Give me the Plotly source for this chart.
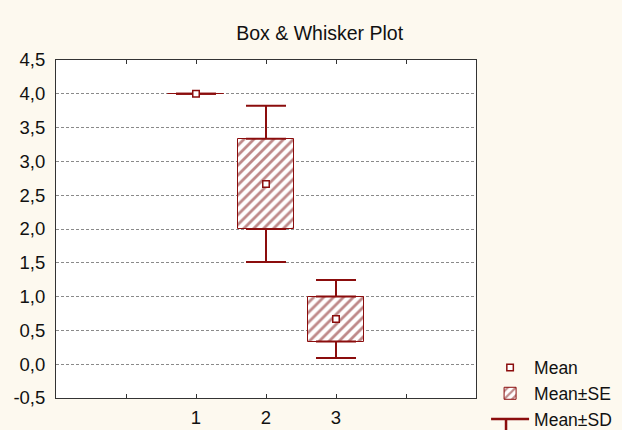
import plotly.graph_objects as go

groups = [1, 2, 3]
means = [4.0, 2.667, 0.667]
se = [0.0, 0.667, 0.333]
sd = [0.0, 1.155, 0.577]
x_tick_vals = [0, 1, 2, 3, 4]
x_tick_text = ["", "1", "2", "3", ""]
y_tick_vals = [-0.5, 0.0, 0.5, 1.0, 1.5, 2.0, 2.5, 3.0, 3.5, 4.0, 4.5]
y_tick_text = ["-0,5", "0,0", "0,5", "1,0", "1,5", "2,0", "2,5", "3,0", "3,5", "4,0", "4,5"]

RED = "#8b0d0d"
HATCH = "#7e1414"
FONT = "Liberation Sans, Arial, sans-serif"

box_base = [m - s for m, s in zip(means, se)]
box_height = [2 * s for s in se]
upper_start = [m + s for m, s in zip(means, se)]
whisk_len = [d - s for d, s in zip(sd, se)]
zeros = [0] * len(groups)

fig = go.Figure()

fig.add_trace(go.Bar(
    x=groups, y=box_height, base=box_base, width=0.8,
    name="Mean±SE",
    marker=dict(color="white", line=dict(color=RED, width=1),
                pattern=dict(shape="/", fgcolor=HATCH, bgcolor="white", size=7, solidity=0.4)),
    legendrank=2,
))

fig.add_trace(go.Scatter(
    x=groups, y=upper_start, mode="markers",
    marker=dict(size=1, color="rgba(0,0,0,0)"),
    error_y=dict(type="data", symmetric=False, array=whisk_len, arrayminus=zeros,
                 width=20, thickness=2, color=RED),
    showlegend=False, hoverinfo="skip",
))
fig.add_trace(go.Scatter(
    x=groups, y=box_base, mode="markers",
    marker=dict(size=1, color="rgba(0,0,0,0)"),
    error_y=dict(type="data", symmetric=False, array=zeros, arrayminus=whisk_len,
                 width=20, thickness=2, color=RED),
    showlegend=False, hoverinfo="skip",
))
# legend key for the whiskers
fig.add_trace(go.Scatter(
    x=[None], y=[None], mode="lines", name="Mean±SD",
    line=dict(color=RED, width=2.5), legendrank=3,
))

fig.add_trace(go.Scatter(
    x=groups, y=means, mode="markers", name="Mean",
    marker=dict(symbol="square", size=6.5, color="white", line=dict(color=RED, width=1.5)),
    legendrank=1,
))

# stem of the whisker legend key (below the legend line)
fig.add_shape(type="line", xref="paper", yref="paper",
              x0=1.0715, x1=1.0715, y0=-0.06, y1=-0.12,
              line=dict(color=RED, width=2.5))

fig.update_layout(
    width=622, height=430,
    margin=dict(l=56, r=146, t=60, b=32, autoexpand=False),
    paper_bgcolor="#fdf9ef", plot_bgcolor="white",
    font=dict(family=FONT, size=18.5, color="#111"),
    title=dict(text="Box & Whisker Plot", x=0.514, xanchor="center", xref="container",
               y=0.923, yanchor="middle", yref="container", font=dict(size=19.5, color="#111")),
    showlegend=True,
    legend=dict(x=1.024, xanchor="left", y=0.143, yanchor="top", bgcolor="rgba(0,0,0,0)",
                font=dict(size=17.5), tracegroupgap=0, itemwidth=38),
    bargap=0,
)
fig.update_xaxes(range=[-1, 5], tickvals=x_tick_vals, ticktext=x_tick_text,
                 ticks="inside", ticklen=4, tickcolor="#333", showgrid=False, zeroline=False,
                 showline=True, linecolor="#333", linewidth=1, mirror="ticks",
                 ticklabelstandoff=3)
fig.update_yaxes(range=[-0.5, 4.5], tickvals=y_tick_vals, ticktext=y_tick_text,
                 ticks="", showgrid=True, gridcolor="#8a8a8a", griddash="3px,2px", gridwidth=1,
                 zeroline=False, showline=True, linecolor="#333", linewidth=1, mirror=True,
                 ticklabelstandoff=6)

fig.write_html("out.html", config={"displayModeBar": False},
               post_script="document.body.style.margin='0';")
